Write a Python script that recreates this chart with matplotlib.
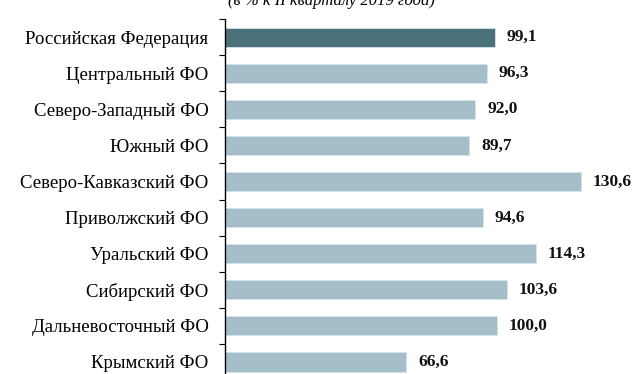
import numpy as np
import matplotlib.pyplot as plt
from matplotlib.ticker import FixedLocator

plt.rcParams['font.family'] = ['Liberation Serif', 'DejaVu Serif']

regions = [
    "Российская Федерация",
    "Центральный ФО",
    "Северо-Западный ФО",
    "Южный ФО",
    "Северо-Кавказский ФО",
    "Приволжский ФО",
    "Уральский ФО",
    "Сибирский ФО",
    "Дальневосточный ФО",
    "Крымский ФО",
]
values = [99.1, 96.3, 92.0, 89.7, 130.6, 94.6, 114.3, 103.6, 100.0, 66.6]

dark = "#4b717b"
light = "#a4bfc9"
colors = [dark] + [light] * (len(values) - 1)

fig = plt.figure(figsize=(6.43, 3.74), dpi=100)
ax = fig.add_axes([0.35, -0.016, 0.635, 0.965])

y = np.arange(len(values))
ax.barh(y, values, height=0.53, color=colors, edgecolor="#d7e3e7", linewidth=0.6)
ax.set_ylim(len(values) - 0.5, -0.5)
ax.set_xlim(0, 150)

for yi, v in zip(y, values):
    ax.text(v + 4.3, yi, f"{v:.1f}".replace(".", ","), va="center", ha="left",
            fontsize=12.5, fontweight="bold", color="#111111")

ax.set_yticks(y)
ax.set_yticklabels(regions, fontsize=13.5)
ax.tick_params(axis="y", which="major", length=0, pad=12)
ax.yaxis.set_minor_locator(FixedLocator(np.arange(len(values) + 1) - 0.5))
ax.tick_params(axis="y", which="minor", length=4, width=0.8, direction="out")
ax.set_xticks([])
for side in ["top", "right", "bottom"]:
    ax.spines[side].set_visible(False)
ax.spines["left"].set_linewidth(1.0)

fig.text(0.516, 0.998, "(в % к II кварталу 2019 года)", ha="center", va="center",
         fontsize=12, style="italic")

fig.savefig("out.png", dpi=100)
